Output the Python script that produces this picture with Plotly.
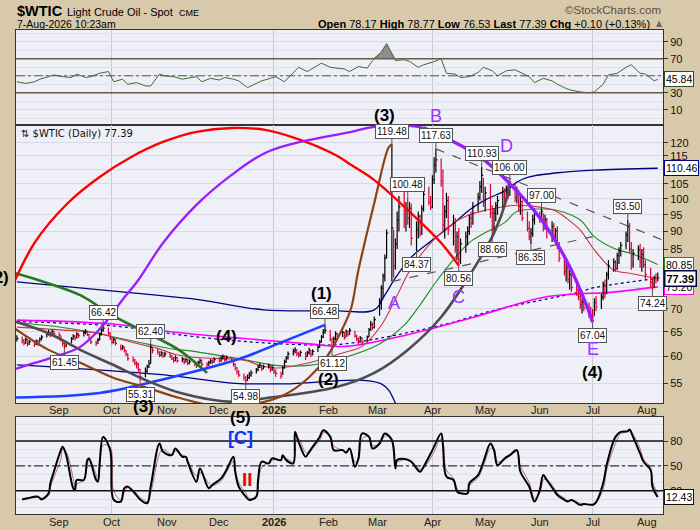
import numpy as np
import pandas as pd
import plotly.graph_objects as go

# ── DATA ──────────────────────────────────────────────────────────────────────

days = pd.bdate_range("2025-08-08", "2026-08-07")   # one bar per trading day

# daily high / low / close, one row per week (first row = Fri 8 Aug 2025)
highs = [64.3,
         64.0, 63.5, 63.8, 63.4, 63.3,
         63.1, 63.4, 63.3, 63.8, 64.3,
         64.9, 65.4, 65.0, 65.5, 65.3,
         64.9, 64.2, 63.4, 62.8, 63.1,
         63.9, 64.5, 64.3, 64.9, 64.8,
         65.2, 65.6, 65.2, 64.6, 63.7,
         63.2, 63.7, 64.8, 65.8, 66.42,
         65.9, 64.9, 63.8, 63.8, 63.5,
         62.4, 62.3, 62.0, 61.3, 60.6,
         60.0, 59.5, 59.1, 58.8, 57.6,
         57.9, 58.4, 59.3, 62.40, 61.9,
         61.5, 61.0, 61.1, 60.8, 60.9,
         60.7, 60.3, 59.9, 60.2, 59.9,
         59.9, 59.7, 59.8, 59.5, 59.4,
         59.2, 58.8, 59.2, 59.6, 59.4,
         58.9, 59.2, 59.5, 59.4, 59.8,
         59.8, 60.1, 60.4, 60.2, 60.2,
         59.9, 59.3, 58.7, 58.0, 57.4,
         56.8, 56.3, 56.6, 57.0, 57.4,
         57.8, 58.4, 58.7, 58.3, 58.4,
         58.6, 58.3, 58.3, 57.9, 57.5,
         57.1, 58.2, 59.4, 60.1, 61.0,
         61.5, 61.8, 61.4, 60.9, 61.2,
         60.9, 61.1, 61.7, 61.3, 61.4,
         62.2, 63.3, 64.3, 65.6, 66.48,
         65.4, 63.8, 64.0, 65.1, 64.8,
         65.3, 65.0, 65.5, 65.3, 65.8,
         65.2, 64.4, 63.8, 64.1, 63.9,
         64.2, 65.8, 67.3, 67.0, 68.3,
         72.5, 75.6, 78.5, 83.5, 90.6,
         119.48, 90.5, 88.0, 96.0, 101.0,
         103.0, 99.0, 100.48, 99.0, 98.5,
         93.0, 96.0, 95.0, 98.0, 103.0,
         104.0, 101.0, 108.0, 114.5, 117.63,
         114.0, 110.0, 98.0, 102.0, 101.0,
         95.0, 94.0, 90.0, 91.0, 88.0,
         90.0, 91.5, 95.0, 96.0, 99.0,
         102.0, 106.0, 110.93, 107.0, 104.0,
         105.0, 98.0, 97.0, 99.0, 101.0,
         104.0, 103.5, 104.5, 105.0, 106.0,
         105.5, 104.0, 103.0, 101.0, 99.5,
         96.0, 93.0, 91.0, 95.0, 97.0,
         96.0, 97.0, 95.5, 95.0, 94.0,
         93.0, 92.5, 91.0, 91.5, 87.0,
         83.5, 81.5, 81.0, 79.5, 79.0,
         76.0, 75.5, 74.0, 72.5, 72.5,
         71.5, 70.5, 70.0, 72.5, 73.0,
         73.5, 76.5, 77.0, 79.0, 82.0,
         82.5, 82.0, 84.0, 85.5, 87.0,
         90.0, 93.50, 92.5, 87.0, 85.0,
         86.0, 86.5, 85.0, 85.5, 82.0,
         80.0, 77.5, 78.0, 78.5, 78.77]

lows = [63.0,
        62.6, 62.2, 62.5, 62.0, 62.3,
        61.9, 62.3, 62.1, 62.8, 63.2,
        63.8, 64.2, 63.9, 64.3, 64.1,
        63.7, 63.0, 62.0, 61.45, 61.8,
        62.6, 63.4, 63.2, 63.6, 63.7,
        64.0, 64.5, 64.1, 63.2, 62.5,
        62.1, 62.5, 63.2, 64.2, 65.0,
        64.3, 63.3, 62.4, 62.6, 62.2,
        61.2, 61.3, 60.8, 60.1, 59.2,
        58.9, 58.3, 57.7, 57.1, 55.31,
        56.1, 56.9, 57.8, 58.6, 60.6,
        60.4, 59.9, 60.0, 59.7, 59.9,
        59.7, 59.3, 58.8, 59.1, 58.8,
        58.9, 58.5, 58.8, 58.3, 58.5,
        58.2, 57.8, 58.1, 58.6, 58.1,
        57.9, 58.2, 58.6, 58.5, 58.8,
        58.8, 59.0, 59.4, 59.0, 59.2,
        58.9, 58.1, 57.4, 56.6, 56.1,
        55.5, 54.98, 55.4, 55.8, 56.2,
        56.8, 57.2, 57.8, 57.3, 57.5,
        57.7, 57.0, 57.3, 56.7, 56.2,
        55.8, 56.5, 57.7, 58.8, 59.4,
        60.2, 60.6, 60.1, 59.8, 60.0,
        59.3, 59.9, 60.4, 59.9, 60.2,
        60.9, 61.7, 62.8, 63.7, 64.6,
        63.0, 61.12, 62.0, 63.3, 63.5,
        63.9, 63.4, 63.9, 64.0, 64.4,
        63.8, 63.1, 62.5, 62.8, 62.4,
        62.9, 63.9, 65.2, 65.4, 65.7,
        68.5, 69.8, 72.5, 76.5, 82.5,
        76.5, 77.5, 79.5, 85.0, 90.0,
        91.0, 90.0, 92.0, 91.0, 86.0,
        84.37, 88.0, 88.5, 89.0, 96.0,
        98.0, 96.5, 97.0, 105.0, 109.0,
        104.0, 90.0, 88.0, 94.0, 89.0,
        86.0, 84.0, 82.0, 80.56, 81.0,
        84.0, 86.0, 89.0, 91.0, 92.0,
        96.0, 99.5, 102.0, 97.5, 96.0,
        94.0, 88.66, 90.0, 93.0, 95.0,
        97.0, 98.0, 99.0, 100.0, 101.0,
        99.0, 98.5, 96.0, 95.0, 93.0,
        90.0, 87.5, 86.35, 88.5, 92.0,
        92.5, 93.0, 90.0, 90.5, 88.0,
        87.0, 87.5, 86.5, 85.0, 81.5,
        78.0, 76.5, 76.0, 74.5, 74.0,
        73.0, 72.0, 70.0, 69.0, 69.5,
        68.0, 67.5, 67.04, 68.5, 69.5,
        70.0, 72.0, 72.5, 73.5, 77.0,
        79.0, 79.0, 79.5, 81.0, 83.0,
        85.0, 87.0, 84.0, 79.5, 80.0,
        82.0, 80.0, 79.0, 80.0, 77.0,
        75.0, 74.24, 75.0, 76.0, 76.53]

closes = [63.6,
          63.1, 62.7, 63.4, 62.5, 62.9,
          62.4, 63.1, 62.6, 63.5, 63.9,
          64.5, 64.9, 64.2, 65.1, 64.6,
          64.3, 63.3, 62.6, 62.0, 62.7,
          63.5, 64.1, 63.7, 64.5, 64.2,
          64.8, 65.1, 64.4, 63.5, 62.9,
          62.6, 63.3, 64.4, 65.3, 65.8,
          64.7, 63.7, 62.9, 63.4, 62.6,
          61.6, 61.9, 61.2, 60.5, 59.6,
          59.3, 58.7, 58.5, 57.6, 56.2,
          57.2, 58.0, 58.6, 61.8, 61.2,
          60.9, 60.2, 60.7, 60.1, 60.5,
          60.1, 59.6, 59.2, 59.8, 59.2,
          59.5, 58.9, 59.4, 58.7, 59.0,
          58.6, 58.2, 58.8, 59.2, 58.5,
          58.4, 58.8, 59.1, 58.9, 59.4,
          59.2, 59.7, 60.0, 59.4, 59.8,
          59.2, 58.5, 57.8, 57.1, 56.5,
          56.0, 55.5, 56.0, 56.5, 56.9,
          57.4, 57.9, 58.3, 57.7, 58.0,
          58.2, 57.5, 57.9, 57.2, 56.8,
          56.3, 57.8, 58.9, 59.7, 60.5,
          61.0, 61.3, 60.6, 60.3, 60.8,
          60.0, 60.7, 61.2, 60.4, 61.0,
          61.8, 62.9, 63.9, 65.0, 65.3,
          63.4, 62.1, 63.5, 64.6, 64.0,
          64.9, 63.8, 65.1, 64.4, 65.3,
          64.1, 63.5, 62.9, 63.7, 62.8,
          63.9, 65.4, 66.6, 65.9, 67.6,
          71.8, 74.9, 77.8, 82.5, 89.5,
          91.0, 80.5, 86.5, 93.5, 97.5,
          93.0, 96.5, 94.0, 97.0, 88.0,
          90.5, 94.5, 89.5, 96.8, 101.5,
          99.0, 97.5, 106.5, 111.5, 113.5,
          106.0, 92.0, 96.0, 99.5, 90.5,
          92.5, 85.5, 88.5, 82.0, 86.5,
          88.5, 90.0, 94.0, 92.5, 97.5,
          100.5, 104.0, 108.0, 99.0, 102.0,
          95.5, 91.5, 95.5, 97.8, 99.5,
          102.5, 100.0, 103.5, 102.0, 104.5,
          100.5, 102.5, 97.5, 99.2, 94.0,
          91.0, 88.5, 89.5, 93.5, 95.5,
          94.5, 96.0, 92.0, 93.5, 90.5,
          91.5, 89.0, 90.2, 86.0, 82.5,
          79.0, 80.0, 77.0, 78.3, 75.0,
          74.5, 72.8, 71.0, 71.5, 70.2,
          69.5, 68.5, 68.2, 71.5, 70.5,
          72.8, 75.8, 73.5, 78.2, 80.5,
          81.5, 79.8, 83.2, 84.5, 86.0,
          89.0, 91.5, 85.0, 81.0, 83.8,
          84.8, 81.5, 83.5, 80.8, 78.2,
          76.3, 75.8, 77.5, 77.29, 77.39]

# overlays: (trading-day index, value)
ma_short_idx = [0, 17, 33, 40, 53, 56, 64, 72, 91, 98, 105, 118, 132, 140, 147, 153, 160,
                170, 177, 183, 190, 197, 202, 212, 218, 222, 228, 234, 241, 248, 260]
ma_short = [66.0, 65.4, 64.7, 63.7, 62.0, 61.6, 60.4, 59.8, 59.3, 58.3, 57.8, 58.8, 60.8, 62.0,
            66.4, 72.3, 79.9, 88.2, 92.8, 95.0, 96.4, 97.6, 98.0, 97.3, 96.2, 94.0, 90.4, 84.8,
            79.4, 78.6, 77.2]

ma_mid_idx = [0, 22, 53, 64, 68, 91, 105, 118, 132, 146, 156, 163, 170, 177, 183, 190, 197,
              202, 213, 218, 228, 234, 241, 248, 255, 260]
ma_mid = [67.0, 65.6, 62.4, 61.4, 61.2, 59.4, 58.3, 58.3, 59.8, 62.5, 66.4, 70.9, 76.4, 82.7,
          86.8, 89.6, 92.6, 96.0, 96.8, 96.5, 93.4, 88.5, 85.2, 83.9, 82.3, 80.85]

ma_long_idx = [0, 40, 64, 91, 118, 133, 158, 185, 212, 226, 239, 260]
ma_long = [67.5, 66.6, 64.9, 63.6, 62.5, 62.0, 64.4, 68.1, 72.6, 73.5, 73.8, 75.2]

band_mid_idx = [0, 40, 68, 91, 118, 132, 172, 194, 226, 234, 260]
band_mid = [67.2, 66.2, 64.2, 63.0, 62.3, 62.5, 66.5, 69.8, 73.8, 75.0, 77.3]

band_up_idx = [0, 47, 74, 100, 127, 145, 149, 153, 160, 168, 177, 183, 190, 198, 202, 207,
               221, 234, 260]
band_up = [76.4, 73.7, 72.1, 69.8, 69.6, 69.8, 73.2, 77.4, 82.8, 87.5, 92.8, 96.5, 99.7,
           102.9, 105.6, 107.4, 109.1, 109.8, 110.46]

band_lo_idx = [0, 34, 61, 88, 108, 147, 153, 158, 165, 200, 260]
band_lo = [58.4, 57.4, 56.4, 55.0, 54.9, 54.9, 51.6, 45.0, 40.0, 38.0, 42.0]

# RSI, read every third trading day plus the last day
rsi_idx = list(range(0, 259, 3)) + [260]
rsi = [43, 41, 43, 46, 49, 51, 49, 48, 52, 48,
       49, 53, 55, 43, 46, 40, 42, 38, 38, 52,
       50, 49, 46, 47, 49, 43, 47, 45, 48, 46,
       44, 36, 41, 44, 47, 49, 43, 53, 60, 55,
       59, 65, 60, 59, 58, 55, 61, 59, 68, 78,
       88, 68, 69, 67, 60, 63, 66, 70, 53, 52,
       48, 49, 54, 60, 56, 50, 56, 57, 54, 49,
       42, 47, 44, 40, 35, 33, 31, 30, 31, 40,
       51, 53, 60, 63, 53, 52, 44, 45.84]

# slow stochastic %K / %D
sto_idx = [1, 4, 8, 10, 12, 13, 15, 17, 18, 20,
           22, 23, 24, 26, 28, 29, 31, 32, 33, 35,
           37, 39, 41, 43, 45, 47, 50, 52, 54, 57,
           59, 62, 64, 66, 68, 69, 72, 74, 77, 79,
           82, 85, 87, 88, 90, 92, 94, 96, 97, 99,
           101, 103, 106, 107, 109, 111, 112, 114, 116, 118,
           120, 122, 124, 126, 128, 131, 133, 135, 136, 138,
           140, 142, 144, 146, 149, 151, 153, 154, 157, 160,
           163, 165, 168, 171, 172, 174, 176, 178, 180, 182,
           183, 186, 189, 191, 193, 195, 197, 200, 202, 204,
           207, 210, 211, 213, 215, 217, 219, 221, 223, 225,
           228, 230, 234, 237, 239, 242, 245, 247, 248, 250,
           252, 254, 256, 257, 260]
sto_k = [9.5, 11, 13, 9.5, 17, 29, 43, 69, 73, 63,
         23, 21, 33, 33, 57, 59, 33, 31, 53, 85,
         69, 9, 7, 23, 25, 17, 9.5, 5, 25, 77,
         67, 63, 71, 61, 61, 55, 31, 47, 23, 27,
         35, 45, 61, 43, 25, 13, 9, 13, 33, 55,
         53, 59, 57, 63, 57, 53, 91, 79, 61, 67,
         73, 85, 93, 85, 69, 69, 66, 71, 49, 59,
         89, 85, 71, 77, 89, 81, 47, 57, 58, 55,
         43, 49, 69, 89, 75, 37, 33, 19, 17, 17,
         29, 39, 55, 77, 69, 51, 59, 63, 69, 43,
         25, 7, 21, 39, 33, 21, 15, 9, 7, 9,
         3, 4, 4, 29, 51, 85, 91, 92, 94, 85,
         65, 55, 45, 25, 12.43]
sto_d = [10, 10.5, 12, 11, 14, 24, 36, 58, 70, 67,
         35, 24, 28, 33, 50, 58, 40, 32, 45, 75,
         73, 20, 9, 18, 24, 19, 12, 7, 17, 65,
         70, 64, 68, 63, 61, 57, 38, 42, 29, 26,
         32, 42, 56, 47, 30, 17, 11, 12, 26, 48,
         54, 57, 58, 61, 59, 55, 80, 83, 66, 65,
         71, 81, 90, 87, 74, 69, 67, 70, 55, 57,
         82, 86, 75, 76, 86, 83, 55, 55, 58, 56,
         46, 47, 63, 83, 79, 45, 35, 23, 18, 17,
         26, 36, 50, 71, 71, 55, 57, 62, 67, 50,
         30, 11, 17, 33, 34, 24, 17, 11, 8, 9,
         5, 4, 4, 22, 45, 77, 89, 91, 93, 88,
         71, 58, 48, 31, 17]

# hand-drawn cycle arcs and trendlines (date, price)
red_arc_dates = ["2025-07-31", "2025-08-18", "2025-09-06", "2025-09-24", "2025-10-12", "2025-10-30",
                 "2025-11-18", "2025-12-08", "2025-12-27", "2026-01-16", "2026-02-05", "2026-02-14",
                 "2026-02-27", "2026-03-18", "2026-04-06", "2026-04-16"]
red_arc_prices = [70.2, 86.7, 98.7, 107.4, 114.6, 120.3, 124.3, 125.9, 125.1, 121.1, 115.3, 111.6,
                  106.3, 96.5, 86.7, 80.56]

purple_arc_dates = ["2025-07-31", "2025-08-08", "2025-08-26", "2025-09-13", "2025-09-26", "2025-10-07",
                    "2025-10-16", "2025-10-30", "2025-11-18", "2025-12-08", "2025-12-27", "2026-01-16",
                    "2026-02-14", "2026-02-27", "2026-03-27", "2026-04-11"]
purple_arc_prices = [56.5, 57.7, 59.6, 61.9, 66.4, 72.1, 76.9, 86.7, 98.1, 108.1, 116.1, 120.3,
                     124.3, 126.3, 125.9, 121.1]
purple_leg_dates = ["2026-03-27", "2026-04-11", "2026-04-28", "2026-05-13", "2026-06-02", "2026-06-17",
                    "2026-06-28", "2026-07-01"]
purple_leg_prices = [125.9, 121.1, 114.6, 106.3, 93.4, 81.2, 70.4, 67.04]

green_arc_dates = ["2025-07-31", "2025-08-20", "2025-09-13", "2025-10-01", "2025-10-20", "2025-11-08",
                   "2025-11-24"]
green_arc_prices = [79.5, 76.9, 73.2, 68.6, 64.9, 61.3, 56.9]

blue_arc_dates = ["2025-07-31", "2025-09-24", "2025-11-04", "2025-12-13", "2026-01-01", "2026-01-30"]
blue_arc_prices = [52.5, 53.3, 56.1, 59.6, 62.2, 66.48]

gray_arc_dates = ["2025-07-31", "2025-08-26", "2025-09-13", "2025-10-01", "2025-10-20", "2025-11-09",
                  "2025-12-08", "2025-12-27", "2026-02-05", "2026-02-27", "2026-03-18", "2026-04-06",
                  "2026-04-24", "2026-05-06", "2026-05-13", "2026-05-15"]
gray_arc_prices = [68.0, 64.7, 61.3, 58.5, 55.6, 53.3, 51.8, 52.4, 54.3, 56.9, 61.3, 68.2,
                   79.4, 89.5, 99.7, 106.0]

brown_arc_dates = ["2025-07-31", "2025-08-26", "2025-09-13", "2025-10-01", "2025-10-20", "2025-11-09",
                   "2025-12-01", "2025-12-22", "2026-01-07", "2026-01-21", "2026-01-31", "2026-02-10",
                   "2026-02-14", "2026-02-18", "2026-02-27", "2026-03-07", "2026-03-09"]
brown_arc_prices = [67.5, 61.3, 58.8, 56.1, 54.3, 52.4, 51.0, 51.5, 53.0, 56.1, 59.9, 66.5,
                    70.4, 79.4, 98.7, 118.0, 119.48]

trend_lo_dates = ["2026-03-09", "2026-07-01"]
trend_lo_prices = [76.5, 88.5]
trend_hi_dates = ["2026-04-03", "2026-08-10"]
trend_hi_prices = [117.63, 87.5]

# pivot labels
peak_dates = ["2025-09-26", "2025-10-23", "2026-01-30", "2026-03-09", "2026-03-18", "2026-04-03",
              "2026-04-29", "2026-05-15", "2026-06-02", "2026-07-21"]
peak_prices = [66.42, 62.40, 66.48, 119.48, 100.48, 117.63, 110.93, 106.00, 97.00, 93.50]
trough_dates = ["2025-09-04", "2025-10-17", "2025-12-16", "2026-02-03", "2026-03-23", "2026-04-16",
                "2026-05-05", "2026-05-27", "2026-07-01", "2026-08-04"]
trough_prices = [61.45, 55.31, 54.98, 61.12, 84.37, 80.56, 88.66, 86.35, 67.04, 74.24]

# wave counts on the price panel (text, date, price, colour)
wave_labels = [("(1)", "2026-01-28", 73.7, "black"), ("(2)", "2026-02-01", 55.6, "black"),
               ("(4)", "2025-12-05", 64.1, "black"), ("(4)", "2026-07-01", 57.0, "black"),
               ("A", "2026-03-10", 71.4, "#9933FF"), ("C", "2026-04-16", 72.7, "#9933FF"),
               ("D", "2026-05-13", 118.7, "#9933FF"), ("E", "2026-07-01", 61.5, "#9933FF")]

months = ["2025-09-01", "2025-10-01", "2025-11-01", "2025-12-01", "2026-01-01", "2026-02-01",
          "2026-03-01", "2026-04-01", "2026-05-01", "2026-06-01", "2026-07-01", "2026-08-01"]
month_labels = ["Sep", "Oct", "Nov", "Dec", "<b>2026</b>", "Feb", "Mar", "Apr", "May", "Jun", "Jul", "Aug"]
quarters = ["2025-10-01", "2026-01-01", "2026-04-01", "2026-07-01"]
price_ticks = [55, 60, 65, 70, 75, 80, 85, 90, 95, 100, 105, 110, 115, 120]

# ── STYLE ─────────────────────────────────────────────────────────────────────

W, H = 700, 530
LEFT, RIGHT = 16, 663
TAN = "#D8C9AA"
PANEL = "#EFEFF7"
FONT = "Liberation Sans"
X_RANGE = ["2025-08-07 12:00", "2026-08-10"]
PRICE_RANGE = (51.6, 127.1)


def py(ypx):
    return 1 - ypx / H


def px(xpx):
    return xpx / W


fig = go.Figure()

# ── price panel overlays ──
def line(idx_or_dates, vals, color, width, dash=None, shape="linear", by_index=True):
    xs = days[idx_or_dates] if by_index else pd.to_datetime(idx_or_dates)
    fig.add_trace(go.Scatter(x=xs, y=vals, mode="lines", xaxis="x2", yaxis="y2",
                             line=dict(color=color, width=width, dash=dash, shape=shape),
                             hoverinfo="skip"))


line(band_up_idx, band_up, "#000080", 1.3, shape="spline")
line(band_lo_idx, band_lo, "#000080", 1.3, shape="spline")
line(band_mid_idx, band_mid, "#000080", 1.2, dash="dot", shape="spline")
line(ma_long_idx, ma_long, "#FF00FF", 1.6, shape="spline")
line(ma_mid_idx, ma_mid, "#228B22", 1.1, shape="spline")
line(ma_short_idx, ma_short, "#CC3344", 1.1, shape="spline")

# price bars (high-low with close tick), coloured against the previous close
bx = {"up": [], "dn": []}
by = {"up": [], "dn": []}
for i, d in enumerate(days):
    key = "up" if i == 0 or closes[i] >= closes[i - 1] else "dn"
    bx[key] += [d, d, None, d, d + pd.Timedelta(hours=22), None]
    by[key] += [lows[i], highs[i], None, closes[i], closes[i], None]
for key, col in (("up", "#000000"), ("dn", "#DD0033")):
    fig.add_trace(go.Scatter(x=bx[key], y=by[key], mode="lines", xaxis="x2", yaxis="y2",
                             line=dict(color=col, width=1.2), hoverinfo="skip"))

# drawn arcs / trendlines
line(trend_lo_dates, trend_lo_prices, "#555555", 1.2, dash="dash", by_index=False)
line(trend_hi_dates, trend_hi_prices, "#555555", 1.2, dash="dash", by_index=False)
line(green_arc_dates, green_arc_prices, "#1F7A1F", 2.6, shape="spline", by_index=False)
line(blue_arc_dates, blue_arc_prices, "#2040FF", 2.6, shape="spline", by_index=False)
line(gray_arc_dates, gray_arc_prices, "#4D4D4D", 2.6, shape="spline", by_index=False)
line(brown_arc_dates, brown_arc_prices, "#8B4513", 2.2, shape="spline", by_index=False)
line(red_arc_dates, red_arc_prices, "#FF0000", 2.4, shape="spline", by_index=False)
line(purple_arc_dates, purple_arc_prices, "#9B1DFF", 2.3, shape="spline", by_index=False)
line(purple_leg_dates, purple_leg_prices, "#9B1DFF", 3.4, shape="spline", by_index=False)

# ── RSI panel ──
rsi_x = days[rsi_idx]
fig.add_trace(go.Scatter(x=rsi_x, y=[70] * len(rsi), mode="lines", line=dict(width=0),
                         xaxis="x", yaxis="y", hoverinfo="skip"))
fig.add_trace(go.Scatter(x=rsi_x, y=np.maximum(rsi, 70), mode="lines", line=dict(width=0),
                         fill="tonexty", fillcolor="rgba(110,110,110,0.75)",
                         xaxis="x", yaxis="y", hoverinfo="skip"))
fig.add_trace(go.Scatter(x=rsi_x, y=rsi, mode="lines", xaxis="x", yaxis="y",
                         line=dict(color="#3A6B35", width=1), hoverinfo="skip"))

# ── stochastic panel ──
sto_x = days[sto_idx]
fig.add_trace(go.Scatter(x=sto_x, y=sto_d, mode="lines", xaxis="x3", yaxis="y3",
                         line=dict(color="#B07070", width=1, shape="spline"), hoverinfo="skip"))
fig.add_trace(go.Scatter(x=sto_x, y=sto_k, mode="lines", xaxis="x3", yaxis="y3",
                         line=dict(color="#000000", width=2, shape="spline"), hoverinfo="skip"))

# ── shapes: reference lines, today's highlight ──
shapes = []
for yv, dash, col, w in ((70, "solid", "#6B5A48", 1.5), (30, "solid", "#6B5A48", 1.5),
                         (50, "dashdot", "#555555", 1)):
    shapes.append(dict(type="line", xref="x domain", yref="y", x0=0, x1=1, y0=yv, y1=yv,
                       line=dict(color=col, width=w, dash=dash)))
for yv, dash, w in ((80, "solid", 1.5), (20, "solid", 1.5), (50, "dashdot", 1)):
    shapes.append(dict(type="line", xref="x3 domain", yref="y3", x0=0, x1=1, y0=yv, y1=yv,
                       line=dict(color="#111111", width=w, dash=dash)))
shapes.append(dict(type="rect", xref="x2", yref="y2", x0="2026-08-06 14:00", x1="2026-08-08 08:00",
                   y0=np.log10(76.2), y1=np.log10(79.4), fillcolor="#FFFF55",
                   line=dict(width=0), layer="below"))

# ── annotations ──
ann = []
box = dict(bgcolor="white", bordercolor="#555555", borderwidth=1, borderpad=1,
           font=dict(family=FONT, size=10, color="#111111"),
           showarrow=True, arrowhead=0, arrowwidth=1, arrowcolor="#555555", ax=0, standoff=0)
for d, p in zip(peak_dates, peak_prices):
    ann.append(dict(x=d, y=np.log10(p), xref="x2", yref="y2", text=f"{p:.2f}", ay=-13, **box))
for d, p in zip(trough_dates, trough_prices):
    ann.append(dict(x=d, y=np.log10(p), xref="x2", yref="y2", text=f"{p:.2f}", ay=13, **box))

for txt, d, p, col in wave_labels:
    bold = col == "black"
    ann.append(dict(x=d, y=np.log10(p), xref="x2", yref="y2", showarrow=False,
                    text=f"<b>{txt}</b>" if bold else txt,
                    font=dict(family=FONT, size=17 if bold else 18, color=col)))


def paper_text(x, ypx, text, size, color="black", xref="x2", xanchor="center", family=FONT):
    ann.append(dict(x=x, y=py(ypx), xref=xref, yref="paper", text=text, showarrow=False,
                    xanchor=xanchor, yanchor="middle",
                    font=dict(family=family, size=size, color=color)))


# month labels under the price and stochastic panels
for ylab in (410, 522):
    for d, t in zip(months, month_labels):
        paper_text(d, ylab, t, 11, "#222222")

# labels that sit outside the price panel
paper_text("2026-03-05", 115, "<b>(3)</b>", 17)
paper_text("2026-04-03", 116, "B", 18, "#9933FF")
paper_text("2025-10-19", 406, "<b>(3)</b>", 17)
paper_text("2025-12-13", 417, "<b>(5)</b>", 17)
paper_text("2025-12-13", 438, "<b>[C]</b>", 18, "#1030FF")
paper_text("2025-12-17", 479, "<b>II</b>", 19, "#FF0000")
ann.append(dict(x=px(11), y=np.log10(77.6), xref="paper", yref="y2", xanchor="right",
                text="<b>(2)</b>", showarrow=False, font=dict(family=FONT, size=17, color="black")))


# right-hand value boxes
def value_box(v, yref, border, bold=False, logy=False):
    t = f"{v:.2f}"
    ann.append(dict(x=px(RIGHT + 1), y=np.log10(v) if logy else v, xref="paper", yref=yref,
                    xanchor="left", text=f"<b>{t}</b>" if bold else t, showarrow=False,
                    bgcolor="white", bordercolor=border, borderwidth=1.5 if bold else 1, borderpad=1,
                    font=dict(family=FONT, size=11 if bold else 10.5, color="black")))


value_box(110.46, "y2", "#000080", logy=True)
value_box(80.85, "y2", "#228B22", logy=True)
value_box(75.20, "y2", "#FF00FF", logy=True)
value_box(77.39, "y2", "#000040", bold=True, logy=True)
value_box(45.84, "y", "#2F4F2F")
value_box(12.43, "y3", "#111111")

# header text
paper_text(px(15), 11, "<b>$WTIC</b>", 14.5, xref="paper", xanchor="left")
paper_text(px(65), 12, "Light Crude Oil - Spot", 11, xref="paper", xanchor="left")
paper_text(px(177), 13, "CME", 9, xref="paper", xanchor="left")
paper_text(px(15), 24, "7-Aug-2026 10:23am", 10.5, xref="paper", xanchor="left")
paper_text(px(652), 24, "<b>Open</b> 78.17 <b>High</b> 78.77 <b>Low</b> 76.53 <b>Last</b> 77.39 "
                        "<b>Chg</b> +0.10 (+0.13%)", 11, xref="paper", xanchor="right")
paper_text(px(654), 24, "▲", 8, "#666666", xref="paper", xanchor="left", family="DejaVu Sans")
paper_text(px(663), 10, "©StockCharts.com", 11.5, "#5E4E3E", xref="paper", xanchor="right")
paper_text(px(19), 133, "⇅ $WTIC (Daily) 77.39", 10, "#111111", xref="paper", xanchor="left",
           family="DejaVu Sans")

# ── axes ──
x_common = dict(type="date", range=X_RANGE, domain=[px(LEFT), px(RIGHT)], showgrid=False,
                showticklabels=False, ticks="", showline=True, mirror=True,
                linecolor="#333333", linewidth=1, zeroline=False,
                minor=dict(tickvals=quarters, showgrid=True, gridcolor="#C9C9D2", gridwidth=1))
y_common = dict(side="right", showline=True, mirror=True, linecolor="#333333", linewidth=1,
                ticks="outside", ticklen=4, tickcolor="#333333", zeroline=False,
                tickfont=dict(family=FONT, size=11, color="#111111"), gridcolor="#D9D9E3")

fig.update_layout(
    width=W, height=H, autosize=False,
    margin=dict(l=0, r=0, t=0, b=0),
    paper_bgcolor=TAN, plot_bgcolor=PANEL,
    showlegend=False, hovermode=False,
    xaxis=dict(**x_common, anchor="y"),
    xaxis2=dict(**x_common, anchor="y2"),
    xaxis3=dict(**x_common, anchor="y3"),
    yaxis=dict(**y_common, domain=[py(125), py(30)], range=[-8, 104], anchor="x",
               tickvals=[10, 30, 50, 70, 90],
               minor=dict(tickvals=[0, 20, 40, 60, 80, 100], showgrid=True, gridcolor="#E0E0EA")),
    yaxis2=dict(**y_common, domain=[py(403), py(125)], type="log", anchor="x2",
                range=[np.log10(PRICE_RANGE[0]), np.log10(PRICE_RANGE[1])], tickvals=price_ticks),
    yaxis3=dict(**y_common, domain=[py(514), py(417)], range=[-8, 109], anchor="x3",
                tickvals=[20, 50, 80],
                minor=dict(tickvals=[0, 10, 30, 40, 60, 70, 90, 100], showgrid=True,
                           gridcolor="#E0E0EA")),
    shapes=shapes,
    annotations=ann,
)

# the page body has a default 8px margin; drop it so the figure fills the window
fig.write_html("out.html", config={"displayModeBar": False},
               post_script=f"document.body.style.margin='0';"
                           f"document.body.style.background='{TAN}';")
